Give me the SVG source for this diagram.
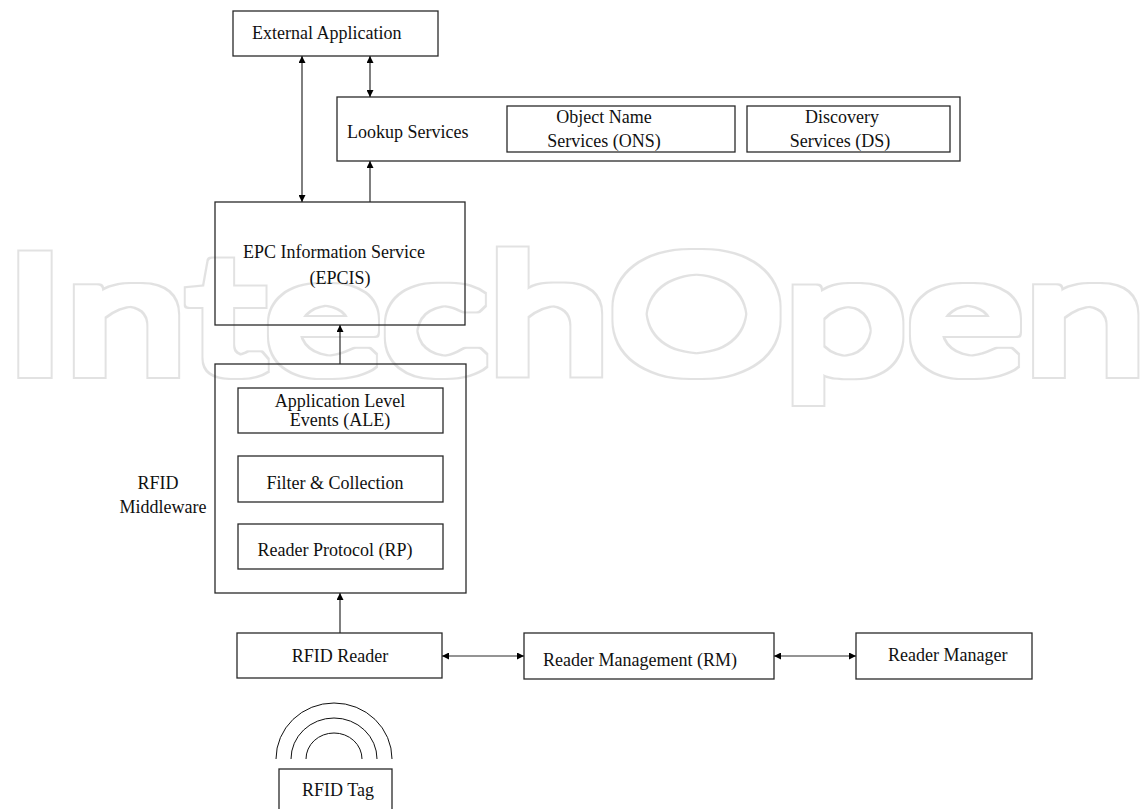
<svg xmlns="http://www.w3.org/2000/svg" width="1145" height="809" viewBox="0 0 1145 809">
<style>
.box{fill:none;stroke:#2a2a2a;stroke-width:1.3}
.t{font-family:"Liberation Serif","Times New Roman",serif;font-size:18px;fill:#111}
.c{text-anchor:middle}
.ln{fill:none;stroke:#2a2a2a;stroke-width:1.2}
.arc{fill:none;stroke:#111;stroke-width:1}
.wm{font-family:Lato,"Open Sans",sans-serif;font-size:162px;fill:#000;filter:url(#wmf)}
</style>
<defs>
<marker id="ah" viewBox="0 0 10 10" refX="10" refY="5" markerWidth="10" markerHeight="7" markerUnits="userSpaceOnUse" orient="auto-start-reverse">
<path d="M0,0 L10,5 L0,10 z" fill="#000"/>
</marker>
<filter id="wmf" x="-5%" y="-20%" width="110%" height="140%">
<feMorphology in="SourceAlpha" operator="dilate" radius="5" result="a"/>
<feMorphology in="SourceAlpha" operator="dilate" radius="6.5" result="b"/>
<feComposite in="b" in2="a" operator="out" result="ring"/>
<feFlood flood-color="#e2e2e2"/>
<feComposite in2="ring" operator="in"/>
</filter>
</defs>
<rect width="1145" height="809" fill="#fff"/>
<text class="wm" x="4" y="372" textLength="1143" lengthAdjust="spacingAndGlyphs">IntechOpen</text>

<g id="external-application">
<rect class="box" x="233" y="11" width="205" height="45"/>
<text class="t" x="252" y="39">External Application</text>
</g>
<g id="lookup-services">
<rect class="box" x="337" y="97" width="623" height="64"/>
<text class="t" x="347" y="138">Lookup Services</text>
</g>
<g id="ons">
<rect class="box" x="507" y="106" width="228" height="46"/>
<text class="t c" x="604" y="123">Object Name</text>
<text class="t c" x="604" y="147">Services (ONS)</text>
</g>
<g id="ds">
<rect class="box" x="747" y="106" width="203" height="46"/>
<text class="t c" x="842" y="123">Discovery</text>
<text class="t c" x="840" y="147">Services (DS)</text>
</g>
<g id="epcis">
<rect class="box" x="215" y="202" width="250" height="123"/>
<text class="t" x="243" y="258">EPC Information Service</text>
<text class="t c" x="340" y="284">(EPCIS)</text>
</g>
<g id="rfid-middleware">
<rect class="box" x="215" y="364" width="251" height="229"/>
<text class="t c" x="158" y="489">RFID</text>
<text class="t c" x="163" y="513">Middleware</text>
</g>
<g id="ale">
<rect class="box" x="238" y="388" width="205" height="45"/>
<text class="t c" x="340" y="407">Application Level</text>
<text class="t c" x="340" y="426">Events (ALE)</text>
</g>
<g id="filter-collection">
<rect class="box" x="238" y="456" width="205" height="46"/>
<text class="t c" x="335" y="489">Filter &amp; Collection</text>
</g>
<g id="reader-protocol">
<rect class="box" x="238" y="524" width="205" height="45"/>
<text class="t c" x="335" y="556">Reader Protocol (RP)</text>
</g>
<g id="rfid-reader">
<rect class="box" x="237" y="633" width="205" height="45"/>
<text class="t c" x="340" y="662">RFID Reader</text>
</g>
<g id="reader-management">
<rect class="box" x="524" y="633" width="250" height="46"/>
<text class="t" x="543" y="666">Reader Management (RM)</text>
</g>
<g id="reader-manager">
<rect class="box" x="856" y="633" width="176" height="46"/>
<text class="t" x="888" y="661">Reader Manager</text>
</g>
<g id="rfid-tag">
<rect class="box" x="279" y="769" width="113" height="50"/>
<text class="t" x="302" y="796">RFID Tag</text>
<path class="arc" d="M276,759 A58,56 0 0 1 392,759"/>
<path class="arc" d="M291,759 A43,41 0 0 1 377,759"/>
<path class="arc" d="M306,759 A28,26 0 0 1 362,759"/>
</g>

<g id="connectors">
<line class="ln" x1="302" y1="56" x2="302" y2="202" marker-start="url(#ah)" marker-end="url(#ah)"/>
<line class="ln" x1="370" y1="56" x2="370" y2="97" marker-start="url(#ah)" marker-end="url(#ah)"/>
<line class="ln" x1="370" y1="202" x2="370" y2="161" marker-end="url(#ah)"/>
<line class="ln" x1="340" y1="364" x2="340" y2="325" marker-end="url(#ah)"/>
<line class="ln" x1="340" y1="633" x2="340" y2="593" marker-end="url(#ah)"/>
<line class="ln" x1="442" y1="656" x2="524" y2="656" marker-start="url(#ah)" marker-end="url(#ah)"/>
<line class="ln" x1="774" y1="656" x2="856" y2="656" marker-start="url(#ah)" marker-end="url(#ah)"/>
</g>
</svg>
